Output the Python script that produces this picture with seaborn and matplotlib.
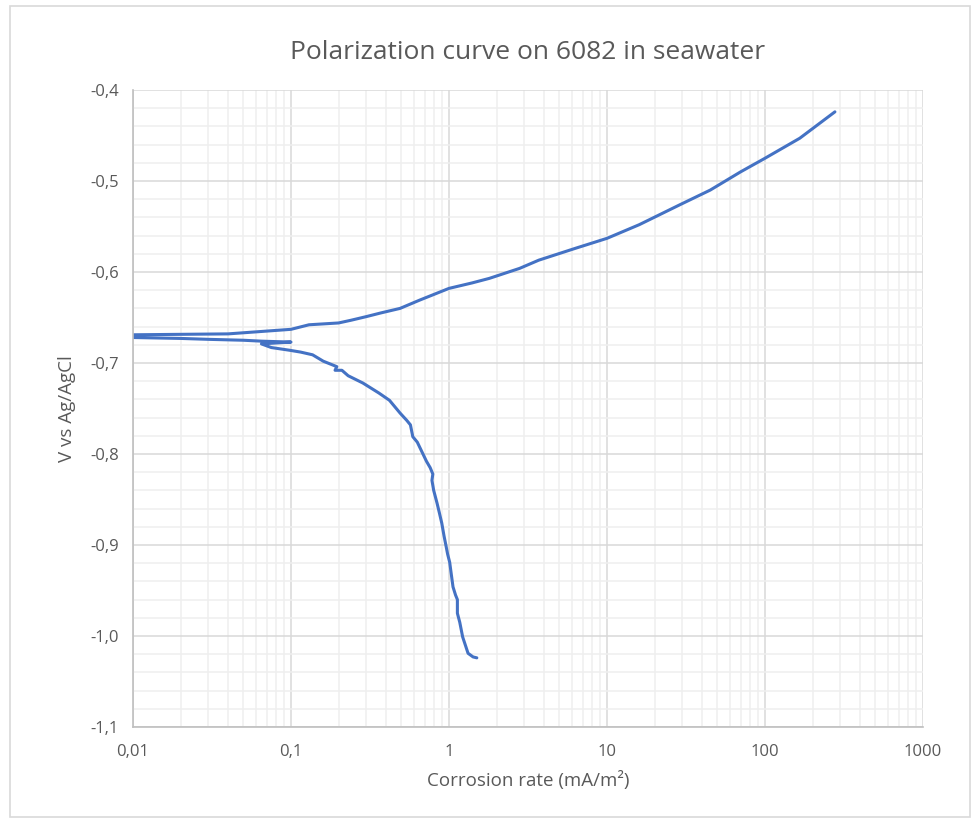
import numpy as np
import pandas as pd
import seaborn as sns
import matplotlib.pyplot as plt
from matplotlib.ticker import LogLocator, FixedLocator, FuncFormatter
from matplotlib.patches import Rectangle

# cathodic branch, measured from -1.025 V up towards OCP
cath_rate = [1.50, 1.42, 1.32, 1.22, 1.17, 1.13, 1.13, 1.10, 1.06, 1.01, 0.98, 0.96, 0.93,
             0.90, 0.87, 0.84, 0.80, 0.78, 0.79, 0.76, 0.72, 0.68, 0.63, 0.59, 0.57, 0.54,
             0.49, 0.42, 0.36, 0.285, 0.23, 0.21, 0.19, 0.195, 0.16, 0.137, 0.115, 0.098,
             0.075, 0.065, 0.1, 0.065, 0.05, 0.03, 0.02, 0.01]
cath_v = [-1.024, -1.023, -1.019, -1.001, -0.985, -0.975, -0.960, -0.955, -0.946, -0.919,
          -0.910, -0.902, -0.890, -0.876, -0.865, -0.854, -0.840, -0.829, -0.822, -0.815,
          -0.808, -0.799, -0.787, -0.781, -0.768, -0.763, -0.755, -0.741, -0.733, -0.722,
          -0.714, -0.708, -0.708, -0.704, -0.698, -0.691, -0.688, -0.686, -0.683, -0.679,
          -0.677, -0.676, -0.675, -0.674, -0.673, -0.672]

# anodic branch, from OCP up to -0.425 V
anod_rate = [0.01, 0.04, 0.1, 0.13, 0.2, 0.24, 0.3, 0.37, 0.49, 0.65, 1.0, 1.4, 1.8, 2.8,
             3.7, 6.3, 10, 16, 29, 45, 70, 100, 166, 277]
anod_v = [-0.669, -0.668, -0.663, -0.658, -0.656, -0.653, -0.649, -0.645, -0.640, -0.631,
          -0.618, -0.612, -0.607, -0.596, -0.587, -0.574, -0.563, -0.548, -0.526, -0.510,
          -0.490, -0.475, -0.453, -0.424]

df = pd.DataFrame({'rate': cath_rate + anod_rate, 'v': cath_v + anod_v})

sns.set_style('white')
plt.rcParams['font.family'] = ['Open Sans', 'DejaVu Sans']
grey = '#595959'

fig = plt.figure(figsize=(9.72, 8.21), dpi=100)
ax = fig.add_axes([133 / 972, 1 - 727 / 821, 790 / 972, 637 / 821])

sns.lineplot(data=df, x='rate', y='v', sort=False, estimator=None, color='#4472C4',
             linewidth=2.2, ax=ax)

ax.set_xscale('log')
ax.set_xlim(0.01, 1000)
ax.set_ylim(-1.1, -0.4)

ax.xaxis.set_major_locator(LogLocator(base=10, numticks=10))
ax.xaxis.set_minor_locator(LogLocator(base=10, subs=np.arange(2, 10), numticks=20))
ax.yaxis.set_major_locator(FixedLocator(np.round(np.arange(-1.1, -0.39, 0.1), 2)))
ax.yaxis.set_minor_locator(FixedLocator(np.round(np.arange(-1.1, -0.39, 0.02), 2)))

ax.xaxis.set_major_formatter(FuncFormatter(lambda x, p: ('%g' % x).replace('.', ',')))
ax.yaxis.set_major_formatter(FuncFormatter(lambda y, p: ('%.1f' % y).replace('.', ',')))

ax.grid(which='major', color='#D9D9D9', linewidth=1.1)
ax.grid(which='minor', color='#EFEFEF', linewidth=1.1)
ax.set_axisbelow(True)

for s in ['top', 'right']:
    ax.spines[s].set_visible(False)
for s in ['left', 'bottom']:
    ax.spines[s].set_color('#BFBFBF')
    ax.spines[s].set_linewidth(1.2)

ax.tick_params(which='both', length=0, labelsize=12, labelcolor=grey, pad=10)
ax.tick_params(axis='x', pad=12)

ax.set_xlabel('Corrosion rate (mA/m²)', fontsize=13.5, color=grey, labelpad=8)
ax.set_ylabel('V vs Ag/AgCl', fontsize=13.5, color=grey, labelpad=10)
ax.set_title('Polarization curve on 6082 in seawater', fontsize=19, color=grey, pad=22)

fig.patches.append(Rectangle((10 / 972, 1 - 817 / 821), 960 / 972, 811 / 821,
                             transform=fig.transFigure, fill=False,
                             edgecolor='#D9D9D9', linewidth=1.2))

plt.savefig('out.png', dpi=100)
